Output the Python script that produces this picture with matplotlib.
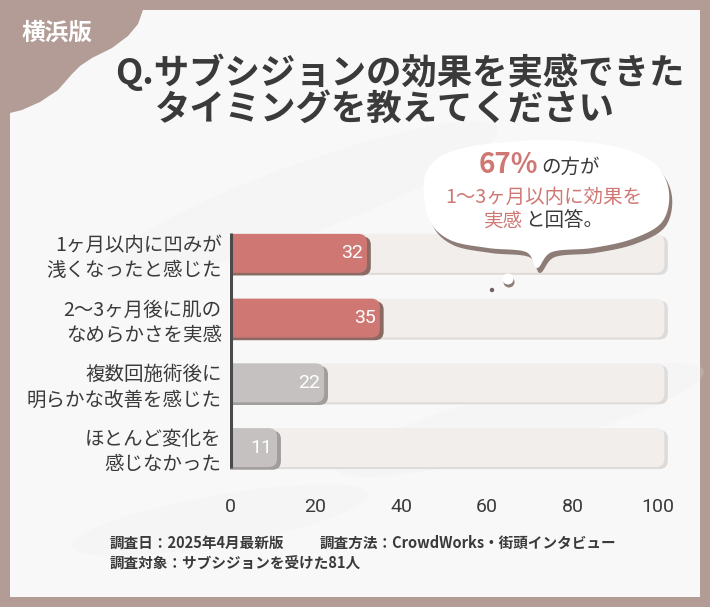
import numpy as np
import matplotlib
matplotlib.use("Agg")
import matplotlib.pyplot as plt
from matplotlib.patches import FancyBboxPatch, Rectangle, Circle, Ellipse

plt.rcParams['font.family'] = ['Noto Sans CJK JP', 'DejaVu Sans']

# data
categories = [
    "1ヶ月以内に凹みが\n浅くなったと感じた",
    "2〜3ヶ月後に肌の\nなめらかさを実感",
    "複数回施術後に\n明らかな改善を感じた",
    "ほとんど変化を\n感じなかった",
]
values = [32, 35, 22, 11]
highlight = [True, True, False, False]
xticks = [0, 20, 40, 60, 80, 100]

W, H = 710, 607
BROWN = "#b29c95"
RED = "#cf7773"
RED_SH = "#8c6a64"
GREY = "#c5c1c0"
GREY_SH = "#a19d9c"
TRACK = "#f1eeec"
TRACK_SH = "#dedad8"
DARK = "#3a3a3a"

fig = plt.figure(figsize=(W / 100, H / 100), dpi=100)
fig.patch.set_facecolor(BROWN)

# background layer in pixel coords
bg = fig.add_axes([0, 0, 1, 1])
bg.set_xlim(0, W)
bg.set_ylim(H, 0)
bg.axis('off')
bg.add_patch(Rectangle((10, 10), 690, 587, facecolor="#f8f8f8", edgecolor='none'))
# faint smudges
for (cx, cy, w, h, a) in [(300, 200, 420, 70, -20), (520, 420, 380, 60, -15), (220, 520, 300, 50, -10)]:
    bg.add_patch(Ellipse((cx, cy), w, h, angle=a, facecolor="#ededed", alpha=0.2, edgecolor='none'))

# brown corner tab
corner = [(10, 10), (143, 10), (138, 24), (128, 36), (112, 48), (92, 58), (80, 66),
          (72, 74), (58, 90), (40, 102), (22, 110), (10, 113)]
bg.add_patch(plt.Polygon(corner, closed=True, facecolor=BROWN, edgecolor='none', zorder=5))
bg.text(57, 33, "横浜版", color="white", fontsize=17, fontweight='bold', ha='center', va='center',
        zorder=6)

# title
bg.text(400, 72, "Q.サブシジョンの効果を実感できた", color=DARK, fontsize=25.5,
        fontweight='bold', ha='center', va='center', zorder=6)
bg.text(385, 109, "タイミングを教えてください", color=DARK, fontsize=25.5,
        fontweight='bold', ha='center', va='center', zorder=6)

# footnotes
bg.text(110, 543, "調査日：2025年4月最新版", color=DARK, fontsize=10.5, fontweight='bold', va='center')
bg.text(320, 543, "調査方法：CrowdWorks・街頭インタビュー", color=DARK, fontsize=10.5,
        fontweight='bold', va='center')
bg.text(110, 564, "調査対象：サブシジョンを受けた81人", color=DARK, fontsize=10.5,
        fontweight='bold', va='center')

# chart axes
px_unit = 4.28
x0_px = 230
xmax = 106
top_px, bot_px = 221, 480
ax = fig.add_axes([x0_px / W, (H - bot_px) / H, xmax * px_unit / W, (bot_px - top_px) / H])
ax.set_xlim(0, xmax)
ax.set_ylim(3.5, -0.5)
ax.patch.set_alpha(0)
for s in ax.spines.values():
    s.set_visible(False)

y_unit_px = (bot_px - top_px) / 4.0
aspect = px_unit / y_unit_px
bh = 39 / y_unit_px
r = 2.0

ypos = np.arange(len(values))
for y, v, hl in zip(ypos, values, highlight):
    # track
    ax.add_patch(FancyBboxPatch((-5 + 0.8, y - bh / 2 + 0.03), 106.5, bh,
                                boxstyle=f"round,pad=0,rounding_size={r}", mutation_aspect=aspect,
                                facecolor=TRACK_SH, edgecolor='none', zorder=1))
    ax.add_patch(FancyBboxPatch((-5, y - bh / 2), 106.5, bh,
                                boxstyle=f"round,pad=0,rounding_size={r}", mutation_aspect=aspect,
                                facecolor=TRACK, edgecolor='none', zorder=1.1))
    fc, sc = (RED, RED_SH) if hl else (GREY, GREY_SH)
    ax.add_patch(FancyBboxPatch((-5 + 0.9, y - bh / 2 + 0.04), v + 5, bh,
                                boxstyle=f"round,pad=0,rounding_size={r}", mutation_aspect=aspect,
                                facecolor=sc, edgecolor='none', zorder=2))
    ax.add_patch(FancyBboxPatch((-5, y - bh / 2), v + 5, bh,
                                boxstyle=f"round,pad=0,rounding_size={r}", mutation_aspect=aspect,
                                facecolor=fc, edgecolor='none', zorder=2.1))
    ax.text(v - 1.0, y, str(v), color="white", fontsize=14, ha='right', va='center',
            family=['Roboto', 'DejaVu Sans'], zorder=3)

ax.plot([0.3, 0.3], [-0.32, 3.32], color="#4a4a4a", lw=2.2, zorder=4, solid_capstyle='butt')

ax.set_yticks(ypos)
ax.set_yticklabels(categories, fontsize=14, color=DARK, linespacing=1.25)
ax.set_xticks(xticks)
ax.set_xticklabels([str(t) for t in xticks], fontsize=14, color=DARK, family=['Roboto', 'DejaVu Sans'])
ax.tick_params(axis='y', length=0, pad=6)
ax.tick_params(axis='x', length=0, pad=13)


# speech bubble overlay on top of the chart
def smooth_closed(pts, n=20):
    pts = np.asarray(pts, float)
    m = len(pts)
    out = []
    for i in range(m):
        p0, p1, p2, p3 = pts[i - 1], pts[i], pts[(i + 1) % m], pts[(i + 2) % m]
        t = np.linspace(0, 1, n, endpoint=False)[:, None]
        seg = 0.5 * ((2 * p1) + (-p0 + p2) * t + (2 * p0 - 5 * p1 + 4 * p2 - p3) * t ** 2
                     + (-p0 + 3 * p1 - 3 * p2 + p3) * t ** 3)
        out.append(seg)
    return np.vstack(out)


top = fig.add_axes([0, 0, 1, 1])
top.set_xlim(0, W)
top.set_ylim(H, 0)
top.axis('off')
top.patch.set_alpha(0)

bubble = [(424, 180), (438, 158), (468, 147), (508, 142), (545, 140), (585, 142),
          (625, 149), (656, 165), (669, 192), (662, 222), (632, 239), (592, 248),
          (552, 252), (537, 268), (526, 252), (488, 248), (450, 240), (429, 219)]
outline = smooth_closed(bubble)
top.add_patch(plt.Polygon(outline + [3, 5], closed=True, facecolor="#8e7c76", edgecolor='none'))
top.add_patch(plt.Polygon(outline, closed=True, facecolor="white", edgecolor='none'))
top.add_patch(Circle((509, 282), 5.5, facecolor="#8e7c76", edgecolor='none'))
top.add_patch(Circle((508, 279), 5.5, facecolor="white", edgecolor='none'))
top.add_patch(Circle((492, 290), 2.2, facecolor="#6e625e", edgecolor='none'))

top.text(538, 165, "67%", color=RED, fontsize=20, fontweight='bold', ha='right', va='center')
top.text(541, 167, "の方が", color=DARK, fontsize=14, ha='left', va='center')
top.text(544, 197, "1〜3ヶ月以内に効果を", color=RED, fontsize=14, ha='center', va='center')
top.text(523, 221, "実感", color=RED, fontsize=14, ha='right', va='center')
top.text(525, 221, "と回答。", color=DARK, fontsize=14, ha='left', va='center')

fig.savefig("out.png", dpi=100, facecolor=fig.get_facecolor())
